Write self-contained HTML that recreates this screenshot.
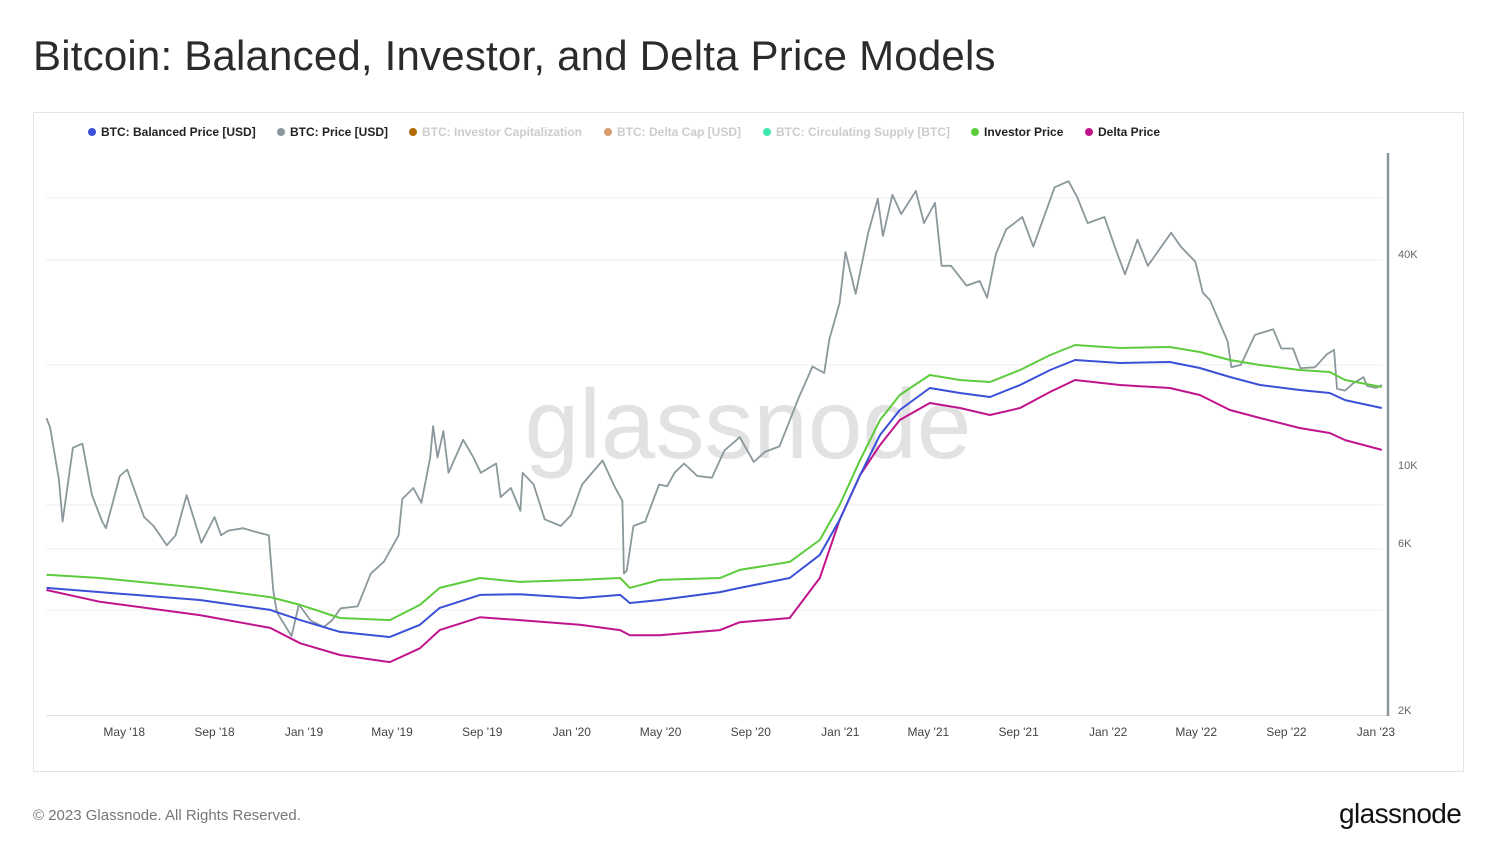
<!DOCTYPE html>
<html><head><meta charset="utf-8">
<style>
html,body{margin:0;padding:0;background:#fff;}
body{width:1495px;height:861px;position:relative;overflow:hidden;font-family:"Liberation Sans",sans-serif;}
#title{position:absolute;left:33px;top:32px;font-size:42px;color:#2b2b2b;margin:0;font-weight:normal;letter-spacing:0.2px;}
#frame{position:absolute;left:33px;top:112px;width:1429px;height:658px;border:1px solid #e4e4e4;}
#legend{position:absolute;left:88px;top:125px;font-size:12px;font-weight:bold;white-space:nowrap;}
.li{position:absolute;top:0;}
.dot{display:inline-block;width:8px;height:8px;border-radius:50%;margin-right:5px;vertical-align:0px;}
#footer{position:absolute;left:33px;top:807px;font-size:15px;color:#777;}
#logo{position:absolute;left:1339px;top:798px;font-size:28px;color:#111;letter-spacing:-0.6px;}
svg{position:absolute;left:0;top:0;}
</style></head>
<body>
<h1 id="title">Bitcoin: Balanced, Investor, and Delta Price Models</h1>
<div id="frame"></div>
<div id="legend">
 <span class="li" style="left:0;color:#222"><span class="dot" style="background:#3a50d6"></span>BTC: Balanced Price [USD]</span>
 <span class="li" style="left:189px;color:#222"><span class="dot" style="background:#8a989c"></span>BTC: Price [USD]</span>
 <span class="li" style="left:321px;color:#ccc"><span class="dot" style="background:#b36b00"></span>BTC: Investor Capitalization</span>
 <span class="li" style="left:516px;color:#ccc"><span class="dot" style="background:#d99a6c"></span>BTC: Delta Cap [USD]</span>
 <span class="li" style="left:675px;color:#ccc"><span class="dot" style="background:#3ee6b0"></span>BTC: Circulating Supply [BTC]</span>
 <span class="li" style="left:883px;color:#222"><span class="dot" style="background:#5ccc3c"></span>Investor Price</span>
 <span class="li" style="left:997px;color:#222"><span class="dot" style="background:#c0148c"></span>Delta Price</span>
</div>
<svg id="chart" width="1495" height="861"></svg>
<div id="footer">© 2023 Glassnode. All Rights Reserved.</div>
<div id="logo">glassnode</div>
<script>
const priceDates=["2018-01-15","2018-01-20","2018-02-01","2018-02-06","2018-02-20","2018-03-05","2018-03-18","2018-04-01","2018-04-06","2018-04-25","2018-05-05","2018-05-28","2018-06-10","2018-06-28","2018-07-10","2018-07-25","2018-08-10","2018-08-14","2018-09-01","2018-09-10","2018-09-20","2018-10-10","2018-11-01","2018-11-14","2018-11-20","2018-11-25","2018-12-15","2018-12-25","2019-01-10","2019-01-28","2019-02-08","2019-02-20","2019-03-15","2019-04-02","2019-04-20","2019-05-10","2019-05-15","2019-05-30","2019-06-10","2019-06-22","2019-06-26","2019-07-02","2019-07-10","2019-07-17","2019-08-06","2019-08-20","2019-08-30","2019-09-20","2019-09-26","2019-10-10","2019-10-23","2019-10-26","2019-11-10","2019-11-25","2019-12-17","2019-12-31","2020-01-15","2020-02-12","2020-02-28","2020-03-10","2020-03-12","2020-03-16","2020-03-25","2020-04-10","2020-04-29","2020-05-10","2020-05-20","2020-06-02","2020-06-20","2020-07-10","2020-07-27","2020-08-17","2020-09-05","2020-09-20","2020-10-10","2020-10-21","2020-11-05","2020-11-24","2020-12-10","2020-12-17","2020-12-31","2021-01-08","2021-01-22","2021-02-08","2021-02-21","2021-02-28","2021-03-13","2021-03-25","2021-04-14","2021-04-25","2021-05-10","2021-05-19","2021-06-01","2021-06-22","2021-07-10","2021-07-20","2021-08-01","2021-08-15","2021-09-06","2021-09-21","2021-10-01","2021-10-20","2021-11-08","2021-11-20","2021-12-04","2021-12-27","2022-01-10","2022-01-24","2022-02-10","2022-02-24","2022-03-28","2022-04-10","2022-04-30","2022-05-10","2022-05-20","2022-06-13","2022-06-18","2022-07-01","2022-07-20","2022-08-14","2022-08-25","2022-09-10","2022-09-20","2022-10-10","2022-10-26","2022-11-05","2022-11-09","2022-11-20","2022-12-01","2022-12-15","2022-12-20","2023-01-01","2023-01-09"];
const priceValues=[13600,12800,9100,6900,11200,11500,8200,6900,6600,9300,9700,7100,6700,5900,6300,8200,6400,6000,7100,6300,6500,6600,6400,6300,4400,3800,3250,4000,3600,3450,3600,3900,3950,4900,5300,6300,8000,8600,7800,10500,12900,10500,12500,9500,11800,10500,9500,10100,8100,8600,7400,9500,8800,7000,6700,7200,8800,10300,8700,7900,4900,5000,6700,6900,8800,8700,9500,10100,9300,9200,11000,12000,10200,10900,11300,12900,15500,19100,18300,22800,29000,40500,30800,46000,57500,45000,59000,52000,60500,49000,56000,37000,37000,32500,33500,30000,40000,47000,51000,42000,48000,62000,64500,58000,49000,51000,42000,35000,44000,37000,46000,42000,38000,31000,29500,22500,19000,19300,23500,24400,21500,21500,18900,19000,20700,21300,16500,16300,17100,17800,16800,16600,16900];
const modelDates=["2018-01-15","2018-03-29","2018-08-12","2018-11-16","2018-12-27","2019-02-19","2019-04-28","2019-06-08","2019-07-05","2019-08-29","2019-10-22","2020-01-12","2020-03-07","2020-03-20","2020-04-30","2020-07-21","2020-08-17","2020-10-24","2020-12-04","2020-12-31","2021-01-28","2021-02-24","2021-03-23","2021-05-03","2021-06-13","2021-07-24","2021-09-03","2021-10-14","2021-11-17","2022-01-17","2022-03-26","2022-05-06","2022-06-16","2022-07-27","2022-09-19","2022-10-30","2022-11-20","2023-01-09"];
const investorValues=[4860,4760,4460,4200,3990,3660,3610,3990,4460,4760,4640,4700,4760,4460,4700,4760,5020,5290,6110,7690,10330,13440,15840,18060,17480,17250,18660,20600,22000,21570,21710,21010,19930,19290,18660,18420,17480,16690];
const balancedValues=[4460,4340,4120,3860,3610,3340,3230,3500,3910,4260,4280,4170,4260,4040,4120,4340,4460,4760,5540,6970,9360,12180,14350,16580,16050,15630,16910,18660,19930,19540,19670,18910,17830,16910,16370,16050,15320,14540];
const deltaValues=[4400,4070,3730,3430,3100,2870,2740,3000,3380,3680,3610,3500,3380,3270,3270,3380,3560,3660,4760,6970,9360,11400,13440,15030,14540,13890,14540,16160,17480,16910,16580,15840,14350,13620,12750,12340,11780,11040];
const yTickValues=[2000,6000,10000,40000];
const yTickLabels=["2K","6K","10K","40K"];
const xTickDates=["2018-05-01","2018-09-01","2019-01-01","2019-05-01","2019-09-01","2020-01-01","2020-05-01","2020-09-01","2021-01-01","2021-05-01","2021-09-01","2022-01-01","2022-05-01","2022-09-01","2023-01-01"];
const xTickLabels=["May '18","Sep '18","Jan '19","May '19","Sep '19","Jan '20","May '20","Sep '20","Jan '21","May '21","Sep '21","Jan '22","May '22","Sep '22","Jan '23"];

const NS="http://www.w3.org/2000/svg";
const svg=document.getElementById('chart');
const T0=Date.UTC(2019,0,1);
function xScale(d){const t=Date.parse(d+"T00:00:00Z");return 304+(t-T0)/86400000*0.7337;}
function yScale(v){return 465-350.5*(Math.log10(v)-4);}
function mk(tag,attrs){const e=document.createElementNS(NS,tag);for(const k in attrs)e.setAttribute(k,attrs[k]);svg.appendChild(e);return e;}

[198,260,365,505,549,610].forEach(function(gy){
  const g=mk('line',{x1:46,x2:1383,y1:gy,y2:gy,stroke:'#ececec','stroke-width':1});
  
  
});
const wm=mk('text',{x:748,y:458,'text-anchor':'middle','font-size':98,fill:'#e2e2e2','font-family':'Liberation Sans, sans-serif'});
wm.textContent='glassnode';


const xa=mk('line',{x1:46,x2:1388,y1:715.5,y2:715.5,stroke:'#e2e2e2','stroke-width':1});


const ya=mk('line',{x1:1388,x2:1388,y1:153,y2:716,stroke:'#8a9599','stroke-width':2.5});


yTickValues.forEach(function(v,i){
  const t=mk('text',{x:1398,y:yScale(v)+4,'font-size':11,fill:'#666','font-family':'Liberation Sans, sans-serif'});
  t.textContent=yTickLabels[i];
  
  
});
xTickDates.forEach(function(d,i){
  const t=mk('text',{x:xScale(d),y:736,'text-anchor':'middle','font-size':12,fill:'#444','font-family':'Liberation Sans, sans-serif'});
  t.textContent=xTickLabels[i];
  
  
});
function line(dates,vals,color,w,name){
  const pts=dates.map(function(d,i){return xScale(d).toFixed(1)+','+yScale(vals[i]).toFixed(1);}).join(' ');
  const p=mk('polyline',{points:pts,fill:'none',stroke:color,'stroke-width':w,'stroke-linejoin':'round'});
  
  
}
line(priceDates,priceValues,'#8a989c',1.8,'btc-price-line');
line(modelDates,deltaValues,'#c0148c',2,'delta-price-line');
line(modelDates,balancedValues,'#3a50d6',2,'balanced-price-line');
line(modelDates,investorValues,'#5ccc3c',2,'investor-price-line');
</script>
</body></html>
